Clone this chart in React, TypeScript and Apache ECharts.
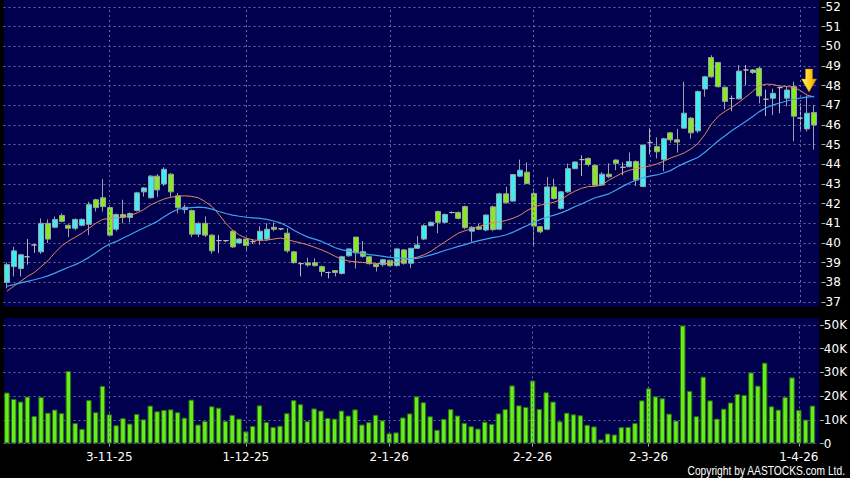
import React, { useEffect, useRef } from "react";
import * as echarts from "echarts";

const dates = [
  "10-10-25", "13-10-25", "14-10-25", "15-10-25", "16-10-25", "17-10-25", "20-10-25", "21-10-25", "22-10-25", "23-10-25",
  "24-10-25", "27-10-25", "28-10-25", "30-10-25", "31-10-25",
  "3-11-25", "4-11-25", "5-11-25", "6-11-25", "7-11-25", "10-11-25", "11-11-25", "12-11-25", "13-11-25", "14-11-25",
  "17-11-25", "18-11-25", "19-11-25", "20-11-25", "21-11-25", "24-11-25", "25-11-25", "26-11-25", "27-11-25", "28-11-25",
  "1-12-25", "2-12-25", "3-12-25", "4-12-25", "5-12-25", "8-12-25", "9-12-25", "10-12-25", "11-12-25", "12-12-25",
  "15-12-25", "16-12-25", "17-12-25", "18-12-25", "19-12-25", "22-12-25", "23-12-25", "24-12-25", "29-12-25", "30-12-25", "31-12-25",
  "2-1-26", "5-1-26", "6-1-26", "7-1-26", "8-1-26", "9-1-26", "12-1-26", "13-1-26", "14-1-26", "15-1-26", "16-1-26",
  "19-1-26", "20-1-26", "21-1-26", "22-1-26", "23-1-26", "26-1-26", "27-1-26", "28-1-26", "29-1-26", "30-1-26",
  "2-2-26", "3-2-26", "4-2-26", "5-2-26", "6-2-26", "9-2-26", "10-2-26", "11-2-26", "12-2-26", "13-2-26",
  "16-2-26", "20-2-26", "23-2-26", "24-2-26", "25-2-26", "26-2-26", "27-2-26",
  "2-3-26", "3-3-26", "4-3-26", "5-3-26", "6-3-26", "9-3-26", "10-3-26", "11-3-26", "12-3-26", "13-3-26",
  "16-3-26", "17-3-26", "18-3-26", "19-3-26", "20-3-26", "23-3-26", "24-3-26", "25-3-26", "26-3-26", "27-3-26",
  "30-3-26", "31-3-26",
  "1-4-26", "2-4-26", "8-4-26",
];

const open = [
  38.0, 38.8, 38.7, 39.3, 39.9, 39.55, 41.0, 40.8, 41.4, 40.9,
  40.75, 40.9, 40.95, 42.2, 42.3, 41.8, 40.7, 41.45, 41.3, 41.65,
  42.6, 42.3, 43.4, 43.0, 43.5, 42.4, 41.7, 41.65, 40.45, 41.0,
  40.4, 40.12, 40.12, 40.6, 40.0, 40.2, 40.07, 40.15, 40.2, 40.8,
  40.72, 40.5, 39.55, 38.95, 38.98, 39.0, 38.8, 38.5, 38.6, 38.45,
  39.35, 40.3, 39.56, 39.3, 38.92, 38.9, 39.12, 38.85, 39.65, 38.97,
  39.73, 40.2, 40.88, 41.6, 41.05, 41.55, 41.55, 41.85, 40.6, 40.82,
  40.66, 41.84, 40.7, 42.5, 42.13, 43.4, 43.6, 42.52, 40.83, 40.7,
  42.85, 41.76, 42.6, 43.78, 44.24, 44.3, 43.95, 42.95, 43.5, 44.22,
  43.85, 43.88, 44.14, 42.87, 45.1, 44.9, 44.24, 45.6, 45.25, 45.84,
  46.35, 45.7, 47.83, 49.43, 49.18, 47.92, 47.35, 47.33, 48.8, 48.8,
  48.88, 47.31, 47.36, 47.9, 47.36, 47.95, 46.35, 45.8, 46.63,
];
const close = [
  38.9, 39.6, 39.4, 39.3, 39.9, 41.0, 40.2, 41.2, 41.1, 40.75,
  41.2, 41.2, 41.95, 41.8, 41.85, 40.4, 41.45, 41.3, 41.5, 42.55,
  42.8, 43.4, 42.7, 43.75, 42.6, 41.8, 41.82, 40.45, 41.0, 40.4,
  39.6, 40.12, 40.12, 39.8, 40.2, 39.87, 40.07, 40.6, 40.7, 40.7,
  40.72, 39.6, 39.0, 38.95, 38.88, 38.85, 38.55, 38.5, 38.5, 39.3,
  39.7, 39.5, 39.32, 38.95, 38.8, 39.15, 38.85, 39.7, 38.97, 39.73,
  39.9, 40.88, 41.05, 41.05, 41.45, 41.55, 41.25, 40.78, 40.8, 40.7,
  41.42, 40.68, 42.5, 42.05, 43.48, 43.7, 43.02, 40.86, 40.57, 42.85,
  42.26, 42.6, 43.78, 44.12, 44.24, 43.99, 42.94, 43.5, 43.37, 44.05,
  43.85, 44.14, 43.2, 44.98, 45.1, 44.64, 45.3, 45.25, 45.13, 46.6,
  45.6, 47.7, 48.45, 48.45, 47.95, 47.2, 47.35, 48.74, 48.8, 48.67,
  47.48, 47.31, 47.61, 47.9, 47.78, 46.45, 46.35, 46.6, 46.0,
];
const low = [
  37.7, 38.3, 38.3, 38.9, 39.5, 39.45, 40.0, 40.75, 41.05, 40.3,
  40.65, 40.85, 40.4, 41.6, 41.6, 40.35, 40.6, 41.0, 41.05, 41.6,
  42.36, 42.25, 42.35, 42.9, 42.35, 41.5, 41.5, 40.3, 40.3, 40.3,
  39.45, 39.5, 40.05, 39.75, 39.95, 39.65, 39.95, 39.9, 40.1, 40.6,
  40.65, 39.5, 38.95, 38.3, 38.8, 38.8, 38.3, 38.2, 38.3, 38.4,
  39.3, 38.7, 39.25, 38.9, 38.55, 38.8, 38.8, 38.8, 38.9, 38.72,
  39.7, 40.15, 40.85, 40.5, 41.0, 41.5, 41.2, 40.7, 40.07, 40.65,
  40.6, 40.6, 40.65, 42.0, 42.1, 43.35, 43.0, 39.9, 40.5, 40.65,
  42.2, 41.7, 42.55, 43.75, 43.4, 43.9, 42.9, 42.9, 43.3, 43.7,
  43.45, 43.85, 42.9, 42.85, 44.5, 44.3, 43.65, 45.1, 44.6, 45.8,
  45.3, 45.6, 47.44, 48.4, 47.9, 46.8, 46.7, 47.3, 48.03, 48.6,
  47.1, 46.45, 46.5, 46.6, 46.95, 45.17, 45.76, 45.67, 44.75,
];
const high = [
  39.0, 39.8, 39.45, 40.2, 39.95, 41.25, 41.2, 41.35, 41.5, 40.95,
  41.25, 41.25, 42.1, 42.25, 43.25, 41.85, 41.5, 42.2, 41.55, 42.6,
  42.85, 43.45, 43.5, 43.85, 43.55, 42.55, 41.95, 41.7, 41.05, 41.35,
  40.45, 40.4, 40.15, 40.65, 40.25, 40.25, 40.2, 40.85, 41.0, 41.05,
  40.75, 40.75, 39.6, 39.0, 39.25, 39.22, 38.85, 38.55, 38.62, 39.35,
  39.72, 40.3, 40.1, 39.35, 38.95, 39.2, 39.15, 39.75, 39.7, 39.75,
  40.35, 40.95, 41.1, 41.65, 41.5, 41.6, 41.6, 41.9, 40.85, 41.0,
  41.45, 41.9, 42.55, 42.85, 43.5, 44.24, 44.1, 42.77, 40.87, 43.36,
  43.27, 42.65, 44.04, 44.15, 44.46, 44.35, 44.0, 43.6, 44.05, 44.25,
  44.1, 44.6, 44.2, 45.0, 45.83, 45.37, 45.35, 45.65, 45.8, 48.2,
  46.4, 47.75, 48.5, 49.55, 49.2, 47.95, 47.5, 49.05, 49.05, 48.85,
  48.95, 47.8, 47.85, 47.95, 47.95, 48.2, 47.1, 47.5, 47.02,
];

// volume in thousands of shares
const volume = [
  21.5, 18.8, 17.7, 19.8, 11.6, 19.6, 13.0, 14.3, 12.8, 30.6,
  8.6, 6.2, 18.4, 13.2, 24.3, 12.3, 7.7, 10.7, 8.4, 12.5,
  10.2, 16.0, 13.6, 14.2, 14.4, 13.2, 10.9, 18.5, 8.0, 9.5,
  15.7, 15.1, 9.5, 12.1, 10.5, 5.1, 7.4, 16.1, 9.1, 7.0,
  7.5, 12.8, 18.3, 16.6, 9.4, 14.8, 13.9, 10.8, 10.5, 13.9,
  11.8, 14.4, 8.0, 9.0, 12.1, 9.8, 4.3, 4.7, 11.0, 12.7,
  19.9, 17.4, 11.5, 5.8, 10.4, 14.5, 11.8, 8.7, 7.3, 6.3,
  9.2, 8.3, 12.7, 14.5, 24.5, 16.1, 15.4, 26.6, 14.6, 21.6,
  17.7, 9.4, 13.0, 12.3, 11.9, 7.9, 7.2, 1.7, 4.2, 3.8,
  6.9, 7.0, 8.6, 18.2, 23.3, 19.9, 19.1, 12.6, 9.7, 49.8,
  22.2, 11.5, 28.2, 18.2, 10.5, 14.7, 17.3, 20.9, 20.5, 30.0,
  24.4, 34.1, 15.7, 14.3, 19.6, 27.9, 14.2, 10.1, 16.0,
];

const ma10 = [
  37.55, 37.8, 38.05, 38.3, 38.5, 38.8, 39.1, 39.5, 39.85, 40.1,
  40.3, 40.5, 40.75, 41.0, 41.2, 41.25, 41.28, 41.32, 41.4, 41.52,
  41.7, 41.93, 42.1, 42.24, 42.33, 42.38, 42.4, 42.37, 42.3, 42.1,
  41.85, 41.45, 41.0, 40.65, 40.4, 40.25, 40.15, 40.13, 40.15, 40.2,
  40.25, 40.17, 40.08, 40.0, 39.9, 39.78, 39.65, 39.5, 39.32, 39.17,
  39.08, 39.04, 39.01, 38.98, 38.96, 38.95, 38.97, 39.03, 39.12, 39.22,
  39.28, 39.4, 39.58, 39.82, 40.05, 40.28, 40.5, 40.63, 40.72, 40.84,
  40.94, 41.02, 41.07, 41.15, 41.26, 41.41, 41.64, 41.82, 41.93, 41.99,
  42.08, 42.2, 42.44, 42.63, 42.78, 42.87, 42.88, 42.95, 43.2, 43.38,
  43.57, 43.7, 43.78, 43.84, 43.92, 44.02, 44.15, 44.32, 44.44, 44.58,
  44.78, 45.05, 45.5, 46.05, 46.45, 46.7, 46.9, 47.15, 47.42, 47.7,
  48.0, 48.08, 48.06, 47.98, 47.96, 47.92, 47.75, 47.52, 47.42,
];
const ma20 = [
  37.8, 37.88, 37.97, 38.05, 38.13, 38.22, 38.33, 38.47, 38.62, 38.77,
  38.9, 39.07, 39.27, 39.5, 39.75, 39.95, 40.08, 40.25, 40.42, 40.6,
  40.76, 40.93, 41.1, 41.33, 41.55, 41.72, 41.77, 41.8, 41.82, 41.8,
  41.72, 41.6, 41.5, 41.42, 41.36, 41.31, 41.28, 41.25, 41.2, 41.12,
  41.02, 40.85, 40.64, 40.46, 40.3, 40.2, 40.08, 39.92, 39.76, 39.65,
  39.59, 39.52, 39.47, 39.41, 39.37, 39.32, 39.27, 39.24, 39.22, 39.2,
  39.22, 39.3, 39.4, 39.5, 39.62, 39.72, 39.83, 39.92, 40.03, 40.12,
  40.2, 40.27, 40.33, 40.42, 40.55, 40.72, 40.88, 41.05, 41.2, 41.32,
  41.42, 41.53, 41.67, 41.84, 41.98, 42.15, 42.3, 42.4, 42.5, 42.68,
  42.88, 43.05, 43.2, 43.32, 43.4, 43.46, 43.56, 43.68, 43.88, 44.05,
  44.2, 44.35, 44.6, 44.9, 45.2, 45.45, 45.72, 45.95, 46.18, 46.42,
  46.68, 46.88, 47.02, 47.12, 47.22, 47.31, 47.37, 47.42, 47.46,
];

const NAVY = "#00004e";
const CYAN = "#3ceef2";
const GREEN = "#86ea1e";
const GRID_LINE = "#6a6aa2";
const FONT = "DejaVu Sans";

export default function App() {
  const ref = useRef<HTMLDivElement>(null);
  useEffect(() => {
    if (!ref.current) return;
    const chart = echarts.init(ref.current, null, { renderer: "svg" });
    const month = (d: string) => d.split("-")[1];
    const monthStart = (i: number) => i > 0 && month(dates[i]) !== month(dates[i - 1]);
    const monthDates = dates.filter((_, i) => monthStart(i));
    const candleData = dates.map((_, i) => [open[i], close[i], low[i], high[i]]);
    const dash = { color: GRID_LINE, type: [2, 3], width: 1 };
    const vLines = {
      silent: true,
      symbol: ["none", "none"],
      label: { show: false },
      lineStyle: { color: GRID_LINE, type: [2, 3], width: 1 },
      emphasis: { disabled: true },
      data: monthDates.map((d) => ({ xAxis: d })),
    };
    chart.setOption({
      animation: false,
      backgroundColor: "#000000",
      textStyle: { fontFamily: FONT },
      graphic: [
        { type: "rect", z: -10, silent: true, shape: { x: 4, y: 0, width: 815, height: 307 }, style: { fill: NAVY } },
        { type: "rect", z: -10, silent: true, shape: { x: 4, y: 318, width: 815, height: 126 }, style: { fill: NAVY } },
        {
          type: "polygon",
          z: 50,
          silent: true,
          shape: {
            points: [
              [805.5, 69], [812.5, 69], [812.5, 79], [816.5, 79], [809, 92], [801.5, 79], [805.5, 79],
            ],
          },
          style: {
            fill: new echarts.graphic.LinearGradient(0, 0, 1, 0, [
              { offset: 0, color: "#fff47a" },
              { offset: 0.5, color: "#ffd21e" },
              { offset: 1, color: "#e69600" },
            ]),
            stroke: "#b77a00",
            lineWidth: 0.5,
          },
        },
        {
          type: "text",
          silent: true,
          x: 845,
          y: 471,
          scaleX: 0.82,
          style: {
            text: "Copyright by AASTOCKS.com Ltd.",
            fill: "#ffffff",
            fontFamily: "Liberation Sans",
            fontSize: 12.5,
            align: "right",
            verticalAlign: "middle",
          },
        },
      ],
      grid: [
        { left: 3.5, top: 7, width: 814, height: 295 },
        { left: 3.5, top: 325, width: 814, height: 118.5 },
      ],
      xAxis: [
        {
          type: "category",
          gridIndex: 0,
          data: dates,
          axisLine: { show: false },
          axisTick: { show: false },
          axisLabel: { show: false },
          splitLine: { show: false },
        },
        {
          type: "category",
          gridIndex: 1,
          data: dates,
          axisLine: { show: false },
          axisTick: {
            show: true,
            alignWithLabel: true,
            interval: (i: number) => monthStart(i),
            length: 3,
            lineStyle: { color: "#b0b0b0" },
          },
          axisLabel: {
            interval: (i: number) => monthStart(i),
            color: "#ffffff",
            fontFamily: FONT,
            fontSize: 12,
            margin: 7,
          },
          splitLine: { show: false },
        },
      ],
      yAxis: [
        {
          type: "value",
          gridIndex: 0,
          position: "right",
          min: 37,
          max: 52,
          interval: 1,
          offset: 4,
          axisLine: { show: false },
          axisTick: { show: true, length: 4, lineStyle: { color: "#b0b0b0" } },
          axisLabel: { color: "#ffffff", fontFamily: FONT, fontSize: 12, margin: 4 },
          splitLine: { show: true, lineStyle: dash },
        },
        {
          type: "value",
          gridIndex: 1,
          position: "right",
          min: 0,
          max: 50,
          interval: 10,
          offset: 4,
          axisLine: { show: false },
          axisTick: { show: true, length: 4, lineStyle: { color: "#b0b0b0" } },
          axisLabel: {
            color: "#ffffff",
            fontFamily: FONT,
            fontSize: 12,
            margin: 4,
            formatter: (v: number) => (v === 0 ? "0" : v + "K"),
          },
          splitLine: { show: true, lineStyle: dash },
        },
      ],
      series: [
        {
          type: "candlestick",
          xAxisIndex: 0,
          yAxisIndex: 0,
          data: candleData,
          barWidth: 5.5,
          itemStyle: {
            color: CYAN,
            color0: GREEN,
            borderColor: "#98a2a8",
            borderColor0: "#98a2a8",
            borderColorDoji: "#b8b8b8",
            borderWidth: 1,
          },
          markLine: vLines,
        },
        {
          type: "line",
          xAxisIndex: 0,
          yAxisIndex: 0,
          data: ma10,
          symbol: "none",
          lineStyle: { color: "#e2875a", width: 1 },
        },
        {
          type: "line",
          xAxisIndex: 0,
          yAxisIndex: 0,
          data: ma20,
          symbol: "none",
          lineStyle: { color: "#3fa2ec", width: 1.2 },
        },
        {
          type: "bar",
          xAxisIndex: 1,
          yAxisIndex: 1,
          data: volume,
          barWidth: "80%",
          itemStyle: { color: "#66ee1a", borderColor: "#2d6e12", borderWidth: 1 },
          markLine: vLines,
        },
      ],
    });
    return () => chart.dispose();
  }, []);
  return (
    <div style={{ position: "fixed", left: 0, top: 0, width: 850, height: 478, background: "#000" }}>
      <div ref={ref} style={{ width: 850, height: 478 }} />
    </div>
  );
}
